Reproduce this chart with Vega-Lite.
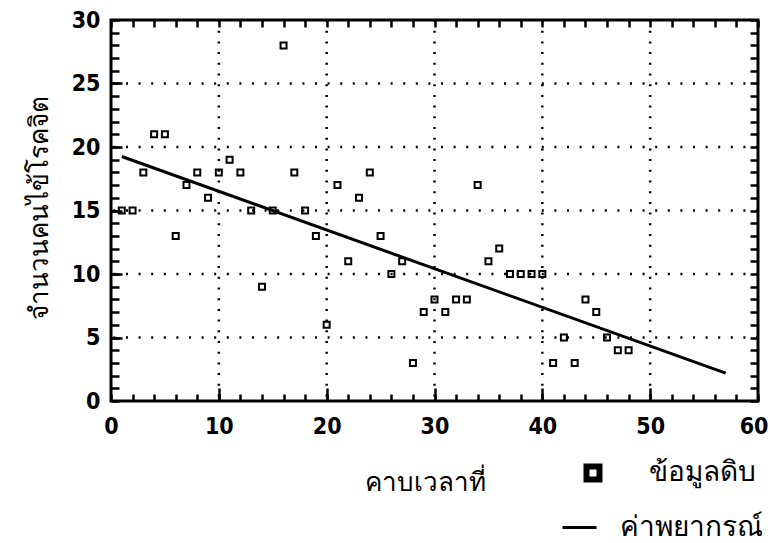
{
  "$schema": "https://vega.github.io/schema/vega-lite/v6.json",
  "width": 647,
  "height": 381,
  "autosize": {"type": "none"},
  "padding": {"left": 111, "top": 20, "right": 12, "bottom": 142},
  "background": "white",
  "config": {
    "view": {"stroke": "black", "strokeWidth": 3},
    "legend": {"padding": 0, "labelFont": "DejaVu Sans", "labelFontSize": 28, "labelColor": "black", "labelLimit": 300}
  },
  "datasets": {
    "obs": [
      {"t": 1, "n": 15, "label": "ข้อมูลดิบ"}, {"t": 2, "n": 15, "label": "ข้อมูลดิบ"},
      {"t": 3, "n": 18, "label": "ข้อมูลดิบ"}, {"t": 4, "n": 21, "label": "ข้อมูลดิบ"},
      {"t": 5, "n": 21, "label": "ข้อมูลดิบ"}, {"t": 6, "n": 13, "label": "ข้อมูลดิบ"},
      {"t": 7, "n": 17, "label": "ข้อมูลดิบ"}, {"t": 8, "n": 18, "label": "ข้อมูลดิบ"},
      {"t": 9, "n": 16, "label": "ข้อมูลดิบ"}, {"t": 10, "n": 18, "label": "ข้อมูลดิบ"},
      {"t": 11, "n": 19, "label": "ข้อมูลดิบ"}, {"t": 12, "n": 18, "label": "ข้อมูลดิบ"},
      {"t": 13, "n": 15, "label": "ข้อมูลดิบ"}, {"t": 14, "n": 9, "label": "ข้อมูลดิบ"},
      {"t": 15, "n": 15, "label": "ข้อมูลดิบ"}, {"t": 16, "n": 28, "label": "ข้อมูลดิบ"},
      {"t": 17, "n": 18, "label": "ข้อมูลดิบ"}, {"t": 18, "n": 15, "label": "ข้อมูลดิบ"},
      {"t": 19, "n": 13, "label": "ข้อมูลดิบ"}, {"t": 20, "n": 6, "label": "ข้อมูลดิบ"},
      {"t": 21, "n": 17, "label": "ข้อมูลดิบ"}, {"t": 22, "n": 11, "label": "ข้อมูลดิบ"},
      {"t": 23, "n": 16, "label": "ข้อมูลดิบ"}, {"t": 24, "n": 18, "label": "ข้อมูลดิบ"},
      {"t": 25, "n": 13, "label": "ข้อมูลดิบ"}, {"t": 26, "n": 10, "label": "ข้อมูลดิบ"},
      {"t": 27, "n": 11, "label": "ข้อมูลดิบ"}, {"t": 28, "n": 3, "label": "ข้อมูลดิบ"},
      {"t": 29, "n": 7, "label": "ข้อมูลดิบ"}, {"t": 30, "n": 8, "label": "ข้อมูลดิบ"},
      {"t": 31, "n": 7, "label": "ข้อมูลดิบ"}, {"t": 32, "n": 8, "label": "ข้อมูลดิบ"},
      {"t": 33, "n": 8, "label": "ข้อมูลดิบ"}, {"t": 34, "n": 17, "label": "ข้อมูลดิบ"},
      {"t": 35, "n": 11, "label": "ข้อมูลดิบ"}, {"t": 36, "n": 12, "label": "ข้อมูลดิบ"},
      {"t": 37, "n": 10, "label": "ข้อมูลดิบ"}, {"t": 38, "n": 10, "label": "ข้อมูลดิบ"},
      {"t": 39, "n": 10, "label": "ข้อมูลดิบ"}, {"t": 40, "n": 10, "label": "ข้อมูลดิบ"},
      {"t": 41, "n": 3, "label": "ข้อมูลดิบ"}, {"t": 42, "n": 5, "label": "ข้อมูลดิบ"},
      {"t": 43, "n": 3, "label": "ข้อมูลดิบ"}, {"t": 44, "n": 8, "label": "ข้อมูลดิบ"},
      {"t": 45, "n": 7, "label": "ข้อมูลดิบ"}, {"t": 46, "n": 5, "label": "ข้อมูลดิบ"},
      {"t": 47, "n": 4, "label": "ข้อมูลดิบ"}, {"t": 48, "n": 4, "label": "ข้อมูลดิบ"}
    ],
    "fc": [
      {"t": 1, "n": 19.25, "model": "ค่าพยากรณ์"},
      {"t": 57, "n": 2.2, "model": "ค่าพยากรณ์"}
    ],
    "gx": [{"t": 10}, {"t": 20}, {"t": 30}, {"t": 40}, {"t": 50}],
    "gy": [{"n": 5}, {"n": 10}, {"n": 15}, {"n": 20}, {"n": 25}]
  },
  "layer": [
    {
      "data": {"name": "gx"},
      "mark": {"type": "rule", "color": "black", "strokeWidth": 2.5, "strokeDash": [2, 8.7]},
      "encoding": {
        "x": {
          "field": "t", "type": "quantitative",
          "scale": {"domain": [0, 60], "nice": false, "zero": false},
          "axis": {
            "orient": "bottom", "title": "คาบเวลาที่", "offset": -7, "tickSize": 7, "tickWidth": 2.5, "tickColor": "black", "zindex": 1,
            "grid": false, "domainOpacity": 0,
            "values": [0, 2, 4, 6, 8, 10, 12, 14, 16, 18, 20, 22, 24, 26, 28, 30, 32, 34, 36, 38, 40, 42, 44, 46, 48, 50, 52, 54, 56, 58, 60],
            "labelExpr": "datum.value % 10 === 0 ? datum.label : ''",
            "labelAlign": {"condition": {"test": "datum.value === 60", "value": "right"}, "value": "center"},
            "labelOffset": {"condition": {"test": "datum.value === 60", "value": 10}, "value": 0},
            "labelFont": "DejaVu Sans Condensed, DejaVu Sans", "labelFontWeight": "bold", "labelFontSize": 23, "labelColor": "black",
            "labelPadding": 14, "labelFlush": false, "labelOverlap": false,
            "titleFont": "DejaVu Sans", "titleFontWeight": "normal", "titleFontSize": 26, "titleColor": "black",
            "titleX": 314, "titleY": 96, "titleBaseline": "alphabetic", "titleAlign": "center"
          }
        }
      }
    },
    {
      "data": {"name": "gy"},
      "mark": {"type": "rule", "color": "black", "strokeWidth": 2.5, "strokeDash": [2, 10.6]},
      "encoding": {
        "y": {
          "field": "n", "type": "quantitative",
          "scale": {"domain": [0, 30], "nice": false, "zero": false},
          "axis": {
            "orient": "left", "title": "จำนวนคนไข้โรคจิต", "offset": -8, "tickSize": 8, "tickWidth": 2.5, "tickColor": "black", "zindex": 1,
            "grid": false, "domainOpacity": 0,
            "values": [0, 1, 2, 3, 4, 5, 6, 7, 8, 9, 10, 11, 12, 13, 14, 15, 16, 17, 18, 19, 20, 21, 22, 23, 24, 25, 26, 27, 28, 29, 30],
            "labelExpr": "datum.value % 5 === 0 ? datum.label : ''",
            "labelFont": "DejaVu Sans Condensed, DejaVu Sans", "labelFontWeight": "bold", "labelFontSize": 23, "labelColor": "black",
            "labelPadding": 11, "labelFlush": false, "labelOverlap": false,
            "titleFont": "DejaVu Sans", "titleFontWeight": "normal", "titleFontSize": 26, "titleColor": "black",
            "titleX": -80, "titleY": 187, "titleAngle": -90, "titleAlign": "center", "titleBaseline": "middle"
          }
        }
      }
    },
    {
      "data": {"name": "gx"},
      "mark": {"type": "rule", "opacity": 0},
      "encoding": {
        "x": {
          "field": "t", "type": "quantitative",
          "scale": {"domain": [0, 60], "nice": false, "zero": false},
          "axis": {
            "orient": "top", "title": null, "labels": false, "offset": -7, "tickSize": 7, "tickWidth": 2.5, "tickColor": "black", "zindex": 1,
            "grid": false, "domainOpacity": 0,
            "values": [0, 2, 4, 6, 8, 10, 12, 14, 16, 18, 20, 22, 24, 26, 28, 30, 32, 34, 36, 38, 40, 42, 44, 46, 48, 50, 52, 54, 56, 58, 60]
          }
        }
      }
    },
    {
      "data": {"name": "gy"},
      "mark": {"type": "rule", "opacity": 0},
      "encoding": {
        "y": {
          "field": "n", "type": "quantitative",
          "scale": {"domain": [0, 30], "nice": false, "zero": false},
          "axis": {
            "orient": "right", "title": null, "labels": false, "offset": -8, "tickSize": 8, "tickWidth": 2.5, "tickColor": "black", "zindex": 1,
            "grid": false, "domainOpacity": 0,
            "values": [0, 1, 2, 3, 4, 5, 6, 7, 8, 9, 10, 11, 12, 13, 14, 15, 16, 17, 18, 19, 20, 21, 22, 23, 24, 25, 26, 27, 28, 29, 30]
          }
        }
      }
    },
    {
      "data": {"name": "gx"},
      "mark": {"type": "rule", "opacity": 0},
      "encoding": {
        "x": {
          "field": "t", "type": "quantitative",
          "scale": {"domain": [0, 60], "nice": false, "zero": false},
          "axis": {"orient": "bottom", "title": null, "labels": false, "offset": -13, "tickSize": 13, "tickWidth": 2.5, "tickColor": "black", "zindex": 1, "grid": false, "domainOpacity": 0, "values": [10, 20, 30, 40, 50]}
        }
      }
    },
    {
      "data": {"name": "gy"},
      "mark": {"type": "rule", "opacity": 0},
      "encoding": {
        "y": {
          "field": "n", "type": "quantitative",
          "scale": {"domain": [0, 30], "nice": false, "zero": false},
          "axis": {"orient": "left", "title": null, "labels": false, "offset": -11, "tickSize": 11, "tickWidth": 2.5, "tickColor": "black", "zindex": 1, "grid": false, "domainOpacity": 0, "values": [5, 10, 15, 20, 25]}
        }
      }
    },
    {
      "data": {"name": "obs"},
      "mark": {"type": "point", "filled": false, "color": "black", "strokeWidth": 2, "size": 36, "opacity": 1},
      "encoding": {
        "x": {"field": "t", "type": "quantitative", "scale": {"domain": [0, 60], "nice": false, "zero": false}, "axis": null},
        "y": {"field": "n", "type": "quantitative", "scale": {"domain": [0, 30], "nice": false, "zero": false}, "axis": null},
        "shape": {
          "field": "label", "type": "nominal",
          "scale": {"domain": ["ข้อมูลดิบ"], "range": ["square"]},
          "legend": {
            "title": null, "orient": "none", "legendX": 468, "legendY": 439,
            "symbolSize": 169, "symbolStrokeWidth": 6, "symbolStrokeColor": "black", "symbolFillColor": "white",
            "labelOffset": 42
          }
        }
      }
    },
    {
      "data": {"name": "fc"},
      "mark": {"type": "line", "color": "black", "strokeWidth": 3},
      "encoding": {
        "x": {"field": "t", "type": "quantitative", "scale": {"domain": [0, 60], "nice": false, "zero": false}, "axis": null},
        "y": {"field": "n", "type": "quantitative", "scale": {"domain": [0, 30], "nice": false, "zero": false}, "axis": null},
        "color": {
          "field": "model", "type": "nominal",
          "scale": {"domain": ["ค่าพยากรณ์"], "range": ["black"]},
          "legend": {
            "title": null, "orient": "none", "legendX": 450, "legendY": 489,
            "symbolType": "stroke", "symbolSize": 1156, "symbolStrokeWidth": 3, "symbolStrokeColor": "black",
            "labelOffset": 22
          }
        }
      }
    }
  ],
  "resolve": {"axis": {"x": "independent", "y": "independent"}}
}
